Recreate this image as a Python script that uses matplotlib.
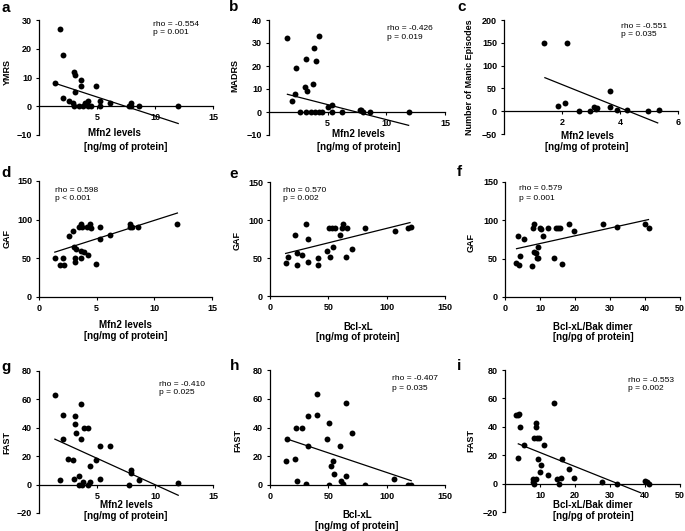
import matplotlib
matplotlib.use("Agg")
import matplotlib.pyplot as plt

plt.rcParams['font.family'] = ['Liberation Sans', 'DejaVu Sans']

W, H = 685, 531

# ---------------- data ----------------
a_x = [1.37, 1.80, 2.09, 2.09, 2.56, 2.97, 3.02, 3.02, 3.11, 3.14, 3.43, 3.60, 3.63, 3.78, 3.95, 4.19, 4.24, 4.48, 4.94, 5.23, 5.29, 6.16, 7.78, 7.90, 7.97, 8.60, 12.0]
a_y = [8, 27, 18, 3, 2, 1, 0, 12, 5, 11, 0, 9, 7, 0, 1, 0, 2, 0, 7, 0, 2, 1, 0, 1, 0, 0, 0]

b_x = [1.57, 1.97, 2.25, 2.30, 2.64, 3.09, 3.15, 3.15, 3.26, 3.60, 3.76, 3.82, 3.93, 3.99, 4.30, 4.30, 4.55, 5.00, 5.40, 5.40, 6.24, 7.75, 7.87, 7.98, 8.60, 11.9]
b_y = [32, 5, 8, 19, 0, 11, 23, 0, 9, 0, 12, 28, 0, 22, 33, 0, 0, 2, 3, 0, 0, 0.7, 1, 0, 0, 0]

c_x = [1.38, 1.85, 2.10, 2.16, 2.57, 2.98, 3.12, 3.16, 3.20, 3.65, 3.66, 3.88, 4.23, 4.97, 5.34]
c_y = [150, 11, 17, 150, 1, 0, 9, 5, 7, 9, 45, 2, 2, 0, 2]

d_x = [1.37, 1.80, 2.09, 2.15, 2.56, 2.97, 3.02, 3.08, 3.14, 3.20, 3.43, 3.60, 3.63, 3.66, 3.72, 3.90, 4.19, 4.24, 4.42, 4.48, 4.94, 5.29, 5.29, 6.16, 7.85, 7.90, 8.05, 8.60, 12.0]
d_y = [50, 41, 51, 41, 79, 85, 65, 45, 51, 62, 90, 59, 51, 95, 90, 58, 90, 54, 95, 89, 43, 90, 75, 80, 90, 95, 90, 90, 95]

e_x = [13.4, 15.1, 21.4, 22.9, 22.9, 27.1, 31.1, 32.9, 32.9, 40.9, 40.9, 48.9, 50.6, 51.1, 52.9, 54.3, 55.7, 60.3, 62.0, 62.6, 65.4, 66.0, 70.0, 81.4, 107, 118, 120.9]
e_y = [43, 51, 80, 57, 41, 54, 95, 75, 45, 50, 41, 59, 90, 51, 90, 65, 90, 80, 90, 95, 51, 90, 62, 90, 85, 90, 91]

f_x = [3.05, 3.6, 4.0, 4.4, 5.4, 7.8, 8.0, 8.2, 8.4, 8.8, 9.0, 9.4, 9.4, 9.9, 10.3, 10.9, 12.2, 14.1, 14.5, 15.1, 15.8, 16.2, 18.3, 19.7, 27.9, 32.1, 40.0, 41.0]
f_y = [45, 80, 42, 54, 75, 41, 90, 95, 59, 57, 51, 51, 65, 90, 89, 80, 90, 51, 90, 90, 90, 43, 95, 86, 95, 91, 95, 90]

g_x = [1.37, 1.80, 2.09, 2.09, 2.53, 2.97, 3.02, 3.11, 3.11, 3.20, 3.43, 3.43, 3.60, 3.66, 3.72, 3.78, 3.90, 4.19, 4.24, 4.42, 4.42, 4.94, 5.29, 5.29, 6.16, 7.80, 7.90, 7.97, 8.60, 12.0]
g_y = [63, 3, 49, 32, 18, 17, 4, 48, 43, 36, 6, 0, 32, 57, 0, 1.5, 40, 0, 40, 2, 13, 17, 27, 4, 27, 0, 10, 8, 3, 1]

h_x = [13.7, 14.6, 21.4, 22.0, 22.9, 27.1, 30.6, 32.3, 32.3, 40.6, 40.6, 48.6, 50.6, 50.6, 52.3, 54.0, 55.1, 60.0, 60.9, 62.3, 65.1, 65.4, 70.0, 81.1, 106.6, 118, 120.9]
h_y = [17, 32, 18, 40, 3, 40, 1, 48, 27, 63, 49, 32, 43, 0, 13, 17, 8, 27, 3, 1, 57, 6, 36, 0, 4, 0, 0]

i_x = [3.1, 3.7, 4.0, 4.3, 3.7, 5.4, 8.9, 8.9, 8.4, 9.0, 9.7, 8.9, 7.9, 8.1, 8.2, 9.5, 10.2, 10.1, 11.0, 12.2, 14.1, 14.8, 15.3, 15.9, 16.4, 18.3, 19.7, 27.7, 31.9, 40.0, 40.5, 41.0]
i_y = [48, 48.5, 49, 40, 18, 27, 43, 40, 32, 32, 32, 3, 3, 1, 0, 17, 13, 8, 27, 6, 57, 3, 0, 4, 17, 10, 4, 1, 0, 2, 1, 0]

# regression line end points
a_fit = ([1.37, 12.0], [8.0, -6.0])
b_fit = ([1.57, 11.9], [7.7, -5.8])
c_fit = ([1.41, 5.3], [73.5, -25.7])
d_fit = ([1.37, 12.0], [58, 108.6])
e_fit = ([13.4, 120], [56, 96.6])
f_fit = ([3.3, 41], [63, 101])
g_fit = ([1.37, 12.0], [32, -7.5])
h_fit = ([14.6, 121], [32, 3])
i_fit = ([3.8, 38.8], [28, -6.5])

stats = {
    'a': ("rho = -0.554", "p = 0.001"),
    'b': ("rho = -0.426", "p = 0.019"),
    'c': ("rho = -0.551", "p = 0.035"),
    'd': ("rho = 0.598", "p < 0.001"),
    'e': ("rho = 0.570", "p = 0.002"),
    'f': ("rho = 0.579", "p = 0.001"),
    'g': ("rho = -0.410", "p = 0.025"),
    'h': ("rho = -0.407", "p = 0.035"),
    'i': ("rho = -0.553", "p = 0.002"),
}
ylabels = {'a': 'YMRS', 'b': 'MADRS', 'c': 'Number of Manic Episodes',
           'd': 'GAF', 'e': 'GAF', 'f': 'GAF', 'g': 'FAST', 'h': 'FAST', 'i': 'FAST'}
xlabels = {'a': ('Mfn2 levels', '[ng/mg of protein]'),
           'b': ('Mfn2 levels', '[ng/mg of protein]'),
           'c': ('Mfn2 levels', '[ng/mg of protein]'),
           'd': ('Mfn2 levels', '[ng/mg of protein]'),
           'e': ('Bcl-xL', '[ng/mg of protein]'),
           'f': ('Bcl-xL/Bak dimer', '[ng/pg of protein]'),
           'g': ('Mfn2 levels', '[ng/mg of protein]'),
           'h': ('Bcl-xL', '[ng/mg of protein]'),
           'i': ('Bcl-xL/Bak dimer', '[ng/pg of protein]')}

xticks = {'a': [5, 10, 15], 'b': [5, 10, 15], 'c': [2, 4, 6],
          'd': [0, 5, 10, 15], 'e': [0, 50, 100, 150], 'f': [0, 10, 20, 30, 40, 50],
          'g': [5, 10, 15], 'h': [0, 50, 100, 150], 'i': [10, 20, 30, 40, 50]}
yticks = {'a': [-10, 0, 10, 20, 30], 'b': [-10, 0, 10, 20, 30, 40],
          'c': [-50, 0, 50, 100, 150, 200], 'd': [0, 50, 100, 150],
          'e': [0, 50, 100, 150], 'f': [0, 50, 100, 150],
          'g': [-20, 0, 20, 40, 60, 80], 'h': [0, 20, 40, 60, 80],
          'i': [-20, 0, 20, 40, 60, 80]}

data = {'a': (a_x, a_y, a_fit), 'b': (b_x, b_y, b_fit), 'c': (c_x, c_y, c_fit),
        'd': (d_x, d_y, d_fit), 'e': (e_x, e_y, e_fit), 'f': (f_x, f_y, f_fit),
        'g': (g_x, g_y, g_fit), 'h': (h_x, h_y, h_fit), 'i': (i_x, i_y, i_fit)}

# ---------------- layout (pixels) ----------------
rects = {'a': (39, 20, 213, 135), 'b': (269, 20, 445, 135), 'c': (504, 20, 678, 134),
         'd': (39, 181, 212, 297), 'e': (270, 182, 445, 296), 'f': (505, 182, 680, 297),
         'g': (39, 371, 213, 513), 'h': (270, 370, 445, 485), 'i': (505, 370, 680, 512)}
letter_pos = {'a': (1, 8), 'b': (229, 7), 'c': (457, 7), 'd': (1, 173), 'e': (229, 174),
              'f': (457, 172), 'g': (1, 367), 'h': (230, 366), 'i': (457, 366)}
stat_pos = {'a': (153, 25, 33), 'b': (387, 29, 37), 'c': (621, 27, 35),
            'd': (55, 190, 198), 'e': (283, 190, 198), 'f': (519, 189, 198),
            'g': (159, 385, 393), 'h': (392, 379, 388), 'i': (628, 381, 389)}
ylab_pos = {'a': (7, 72), 'b': (235, 75), 'c': (469, 77), 'd': (7, 238), 'e': (237, 240),
            'f': (471, 243), 'g': (7, 442), 'h': (238, 440), 'i': (471, 440)}
xlab_pos = {'a': ((114, 133), (126, 147)), 'b': ((358, 134), (359, 147)),
            'c': ((587, 136), (587, 147)), 'd': ((125, 325), (126, 336)),
            'e': ((358, 327), (358, 337)), 'f': ((593, 327), (593, 337)),
            'g': ((126, 505), (126, 516)), 'h': ((357, 515), (357, 526)),
            'i': ((593, 505), (593, 516))}


def fx(x):
    return x / W


def fy(y):
    return 1 - y / H


fig = plt.figure(figsize=(W / 100, H / 100), dpi=100)
fig.patch.set_facecolor('white')

for k in 'abcdefghi':
    x0, y0, x1, y1 = rects[k]
    ax = fig.add_axes([fx(x0), fy(y1), (x1 - x0) / W, (y1 - y0) / H])
    xs, ys, fit = data[k]
    ax.scatter(xs, ys, s=18, color='black', zorder=3, linewidths=0)
    ax.plot(fit[0], fit[1], color='black', lw=0.9, zorder=2)
    xt = xticks[k]
    yt = yticks[k]
    ax.set_xlim(0, xt[-1])
    ax.set_ylim(yt[0], yt[-1])
    ax.set_xticks(xt)
    ax.set_yticks(yt)
    for s in ('top', 'right'):
        ax.spines[s].set_visible(False)
    ax.spines['bottom'].set_position(('data', 0))
    for s in ('left', 'bottom'):
        ax.spines[s].set_linewidth(0.9)
    ax.tick_params(direction='out', length=2.5, width=0.8, labelsize=6.5, pad=2.5)
    for lab in ax.get_xticklabels() + ax.get_yticklabels():
        lab.set_fontweight('bold')
    ax.patch.set_alpha(0)

    # panel letter
    lx, ly = letter_pos[k]
    fig.text(fx(lx), fy(ly), k, fontsize=11, fontweight='bold', ha='left', va='center')
    # stats
    sx, sy1, sy2 = stat_pos[k]
    fig.text(fx(sx), fy(sy1), stats[k][0], fontsize=6, ha='left', va='center')
    fig.text(fx(sx), fy(sy2), stats[k][1], fontsize=6, ha='left', va='center')
    # y label
    yx, yy = ylab_pos[k]
    fig.text(fx(yx), fy(yy), ylabels[k], fontsize=6.5,
             fontweight='bold', rotation=90, ha='center', va='center')
    # x label
    (l1x, l1y), (l2x, l2y) = xlab_pos[k]
    fig.text(fx(l1x), fy(l1y), xlabels[k][0], fontsize=7, fontweight='bold', ha='center', va='center')
    fig.text(fx(l2x), fy(l2y), xlabels[k][1], fontsize=7, fontweight='bold', ha='center', va='center')

fig.savefig('out.png', dpi=100, facecolor='white')
